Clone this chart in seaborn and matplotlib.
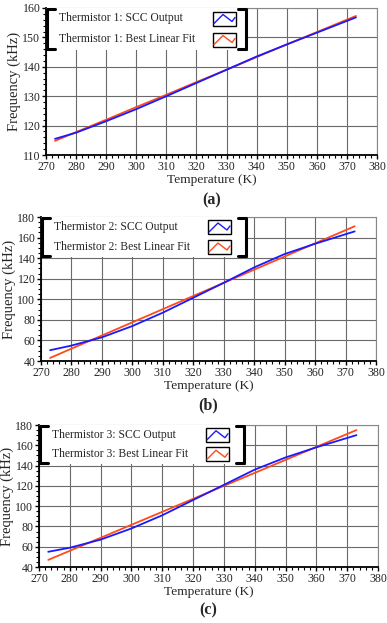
import numpy as np
import pandas as pd
import seaborn as sns
import matplotlib.pyplot as plt
from matplotlib.patches import Rectangle
from matplotlib.ticker import MultipleLocator

# temperatures (K)
temp = [273, 280, 290, 300, 310, 320, 330, 340, 350, 360, 373]

# thermistor 1
scc1 = [115.5, 117.6, 121.5, 125.6, 130.0, 134.5, 139.0, 143.5, 147.6, 151.6, 156.8]
fit1 = [114.8, 117.8, 122.0, 126.3, 130.5, 134.8, 139.0, 143.3, 147.6, 151.8, 157.3]
# thermistor 2
scc2 = [50.5, 55.0, 63.0, 74.0, 87.0, 101.5, 116.0, 131.0, 144.0, 154.0, 166.0]
fit2 = [43.0, 52.0, 64.8, 77.6, 90.4, 103.2, 116.0, 128.8, 141.6, 154.4, 171.0]
# thermistor 3
scc3 = [55.0, 59.0, 67.0, 78.0, 91.0, 106.0, 121.0, 136.0, 148.0, 158.0, 170.0]
fit3 = [47.0, 56.0, 68.8, 81.6, 94.4, 107.2, 120.0, 132.8, 145.6, 158.4, 175.0]

panels = [
    ('1', scc1, fit1, (110, 160), 10, 2, '(a)'),
    ('2', scc2, fit2, (40, 180), 20, 5, '(b)'),
    ('3', scc3, fit3, (40, 180), 20, 5, '(c)'),
]
# axes rect in pixels: left, top, right, bottom
rects_px = [(46, 8, 377, 155), (41, 217, 376, 361), (39, 425, 378, 567)]
legend_px = [(46, 8, 248, 50), (41, 217, 248, 257), (39, 425, 246, 464)]
label_y = [200, 405, 610]

W, H = 387, 623
blue = '#1a1aff'
red = '#ff4a1a'

sns.set_style('white')
plt.rcParams['font.family'] = ['Liberation Serif', 'DejaVu Serif']
fig = plt.figure(figsize=(W / 100, H / 100), dpi=100)


def draw_legend(ax, num, lp, rp):
    # legend in axes fraction coords from pixel box
    l, t, r, b = rp
    aw, ah = r - l, b - t
    fx = lambda px: (px - l) / aw
    fy = lambda py: 1 - (py - t) / ah
    x0, y0, x1, y1 = fx(lp[0]), fy(lp[3]), fx(lp[2]), fy(lp[1])
    tr = ax.transAxes
    ax.add_patch(Rectangle((x0, y0), x1 - x0, y1 - y0, transform=tr,
                           facecolor='white', edgecolor='none', zorder=5))
    lw = 2.2
    tick = 8 / aw
    ax.plot([x0 + 0.004, x0 + 0.004], [y0, y1], transform=tr, color='black', lw=lw, zorder=6, solid_capstyle='butt')
    ax.plot([x0 + 0.004, x0 + 0.004 + tick], [y1 - 0.01, y1 - 0.01], transform=tr, color='black', lw=lw, zorder=6)
    ax.plot([x0 + 0.004, x0 + 0.004 + tick], [y0 + 0.01, y0 + 0.01], transform=tr, color='black', lw=lw, zorder=6)
    ax.plot([x1 - 0.006, x1 - 0.006], [y0, y1], transform=tr, color='black', lw=lw, zorder=6, solid_capstyle='butt')
    ax.plot([x1 - 0.006 - tick, x1 - 0.006], [y1 - 0.01, y1 - 0.01], transform=tr, color='black', lw=lw, zorder=6)
    ax.plot([x1 - 0.006 - tick, x1 - 0.006], [y0 + 0.01, y0 + 0.01], transform=tr, color='black', lw=lw, zorder=6)

    names = ['Thermistor %s: SCC Output' % num, 'Thermistor %s: Best Linear Fit' % num]
    cols = [blue, red]
    hgt = lp[3] - lp[1]
    for i in range(2):
        yc = lp[1] + hgt * (0.25 + 0.5 * i)
        ax.text(fx(lp[0] + 13), fy(yc), names[i], transform=tr, fontsize=8.4,
                va='center', ha='left', zorder=7)
        bx0, bx1 = lp[0] + 167, lp[0] + 190
        by0, by1 = yc - 7, yc + 7
        ax.add_patch(Rectangle((fx(bx0), fy(by1)), fx(bx1) - fx(bx0), fy(by0) - fy(by1),
                               transform=tr, facecolor='white', edgecolor='black', lw=1.0, zorder=7))
        zx = [bx0 + 1, bx0 + 10, bx1 - 4, bx1 - 1]
        zy = [by1 - 2, by0 + 3, by1 - 4, by1 - 8]
        ax.plot([fx(v) for v in zx], [fy(v) for v in zy], transform=tr, color=cols[i], lw=1.0, zorder=8)


for (num, scc, fit, ylim, ymaj, ymin, tag), rp, lp, ly in zip(panels, rects_px, legend_px, label_y):
    l, t, r, b = rp
    ax = fig.add_axes([l / W, 1 - b / H, (r - l) / W, (b - t) / H])
    df = pd.DataFrame({'Temperature': temp * 2,
                       'Frequency': scc + fit,
                       'series': ['SCC Output'] * len(temp) + ['Best Linear Fit'] * len(temp)})
    sns.lineplot(data=df, x='Temperature', y='Frequency', hue='series',
                 palette={'SCC Output': blue, 'Best Linear Fit': red},
                 hue_order=['Best Linear Fit', 'SCC Output'],
                 legend=False, lw=1.3, ax=ax, zorder=3)
    ax.set_xlim(270, 380)
    ax.set_ylim(*ylim)
    ax.xaxis.set_major_locator(MultipleLocator(10))
    ax.xaxis.set_minor_locator(MultipleLocator(2))
    ax.yaxis.set_major_locator(MultipleLocator(ymaj))
    ax.yaxis.set_minor_locator(MultipleLocator(ymin))
    ax.grid(True, which='major', color='#6a6a6a', lw=0.8)
    ax.set_axisbelow(True)
    ax.tick_params(which='major', direction='out', length=3, width=1, labelsize=8.6, pad=1,
                   left=True, bottom=True, color='black')
    ax.tick_params(which='minor', direction='out', length=2, width=0.8, left=True, bottom=True, color='black')
    for s in ['left', 'bottom']:
        ax.spines[s].set_color('black')
        ax.spines[s].set_linewidth(1.3)
    for s in ['top', 'right']:
        ax.spines[s].set_color('#888888')
        ax.spines[s].set_linewidth(0.8)
    ax.set_xlabel('Temperature (K)', fontsize=9.6, labelpad=1)
    ax.set_ylabel('Frequency (kHz)', fontsize=10.5, labelpad=1)
    draw_legend(ax, num, lp, rp)
    fig.text((l + r) / 2 / W, 1 - ly / H, tag, ha='center', va='center',
             fontsize=11.5, fontweight='bold')

fig.savefig('out.png', dpi=100)
